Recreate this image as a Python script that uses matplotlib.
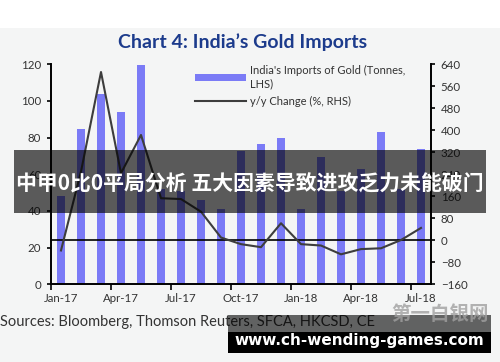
import matplotlib
matplotlib.use("Agg")
import matplotlib.pyplot as plt
from matplotlib.patches import Rectangle, Patch
from matplotlib.lines import Line2D
import numpy as np

months = ['Jan-17', 'Feb-17', 'Mar-17', 'Apr-17', 'May-17', 'Jun-17', 'Jul-17',
          'Aug-17', 'Sep-17', 'Oct-17', 'Nov-17', 'Dec-17', 'Jan-18', 'Feb-18',
          'Mar-18', 'Apr-18', 'May-18', 'Jun-18', 'Jul-18']
imports_t = [48, 84.5, 104, 94, 119.5, 52, 51, 46, 41, 72.5, 76.5, 80,
             41, 69.5, 51, 63, 83, 52, 74]
yoy_pct = [-37, 250, 612, 244, 383, 153, 150, 104, 10, -14, -25, 62,
           -14, -19, -51, -32, -29, 1, 45]
tick_labels = ['Jan-17', 'Apr-17', 'Jul-17', 'Oct-17', 'Jan-18', 'Apr-18', 'Jul-18']
left_ticks = [0, 20, 40, 60, 80, 100, 120]
right_ticks = [-160, -80, 0, 80, 160, 240, 320, 400, 480, 560, 640]

plt.rcParams['font.family'] = ['Lato', 'DejaVu Sans']

W, H = 500, 362
fig = plt.figure(figsize=(W / 100, H / 100), dpi=100)
fig.patch.set_facecolor('white')
fig.patches.append(Rectangle((0, 0), 1, 1 - 28 / H, transform=fig.transFigure,
                             facecolor='#f4f5f5', edgecolor='none', zorder=-10))

ax = fig.add_axes([51 / W, (H - 284.3) / H, 380 / W, 220 / H])
ax.set_facecolor('none')
x = np.arange(len(months))
bar_color = '#7b7bf6'
ax.bar(x, imports_t, width=0.4, color=bar_color, zorder=2)
ax.set_xlim(-0.5, len(months) - 0.5)
ax.set_ylim(0, 120)
ax.set_yticks(left_ticks)
ax.set_xticks([months.index(m) for m in tick_labels])
ax.set_xticklabels(tick_labels)
ax.set_xticks(np.arange(-0.5, len(months), 3), minor=True)
ax.tick_params(axis='x', which='major', length=0, pad=6, labelsize=8.3, colors='#333333')
ax.tick_params(axis='x', which='minor', length=4, width=1.2, direction='out', color='black')
ax.tick_params(axis='y', length=3, width=1.2, direction='out', labelsize=8.3,
               colors='#333333', pad=4)
ax.tick_params(axis='y', color='black')
for s in ['top', 'right']:
    ax.spines[s].set_visible(False)
for s in ['left', 'bottom']:
    ax.spines[s].set_linewidth(1.4)
    ax.spines[s].set_color('black')

ax2 = ax.twinx()
ax2.set_ylim(-160, 640)
ax2.set_yticks(right_ticks)
ax2.axhline(0, color='black', lw=1.2, zorder=3)
ax2.plot(x, yoy_pct, color='#3d3d3d', lw=1.5, zorder=4)
ax2.tick_params(axis='y', length=3, width=1.2, direction='out', labelsize=8.3,
                colors='#333333', pad=4)
ax2.tick_params(axis='y', color='black')
for s in ['top', 'left', 'bottom']:
    ax2.spines[s].set_visible(False)
ax2.spines['right'].set_linewidth(1.4)

handles = [Patch(facecolor=bar_color, edgecolor='none'),
           Line2D([0], [0], color='#3d3d3d', lw=1.5)]
labels = ["India's Imports of Gold (Tonnes,\nLHS)", 'y/y Change (%, RHS)']
leg = ax2.legend(handles, labels, loc='upper left', bbox_to_anchor=(0.378, 0.995),
                 frameon=False, fontsize=8, handlelength=4.6, handleheight=0.6,
                 handletextpad=0.4, borderpad=0, borderaxespad=0, labelspacing=0.6)
for t in leg.get_texts():
    t.set_color('#333333')

fig.text(243 / W, 1 - 42 / H, "Chart 4: India\u2019s Gold Imports", ha='center', va='center',
         fontsize=14, fontweight='bold', color='#1c3b8c')
fig.text(0 / W, 1 - 322 / H, "Sources: Bloomberg, Thomson Reuters, SFCA, HKCSD, CE",
         ha='left', va='center', fontsize=10.5, color='#333333')

# overlay banner
fig.patches.append(Rectangle((14 / W, 1 - 213 / H), 472 / W, 63 / H, transform=fig.transFigure,
                             facecolor='black', alpha=0.63, edgecolor='none', zorder=20))
fig.text(250 / W, 1 - 183 / H, "中甲0比0平局分析 五大因素导致进攻乏力未能破门",
         ha='center', va='center', fontsize=15, fontweight='bold', color='white',
         family=['Noto Sans CJK SC', 'DejaVu Sans'], zorder=21)

# bottom watermark
fig.patches.append(Rectangle((228 / W, 1 - 332 / H), 263 / W, 17 / H, transform=fig.transFigure,
                             facecolor='black', alpha=0.6, edgecolor='none', zorder=20))
fig.patches.append(Rectangle((228 / W, 1 - 353 / H), 263 / W, 21 / H, transform=fig.transFigure,
                             facecolor='black', edgecolor='none', zorder=20))
fig.text(440 / W, 1 - 315 / H, "第一白银网", ha='center', va='center', fontsize=14,
         fontweight='bold', color='#a0a0a0', alpha=0.8,
         family=['Noto Sans CJK SC', 'DejaVu Sans'], zorder=21)
fig.text(359 / W, 1 - 340 / H, "www.ch-wending-games.com", ha='center', va='center',
         fontsize=11, fontweight='bold', color='white', family=['DejaVu Sans'], zorder=21)

fig.savefig('out.png', dpi=100)
